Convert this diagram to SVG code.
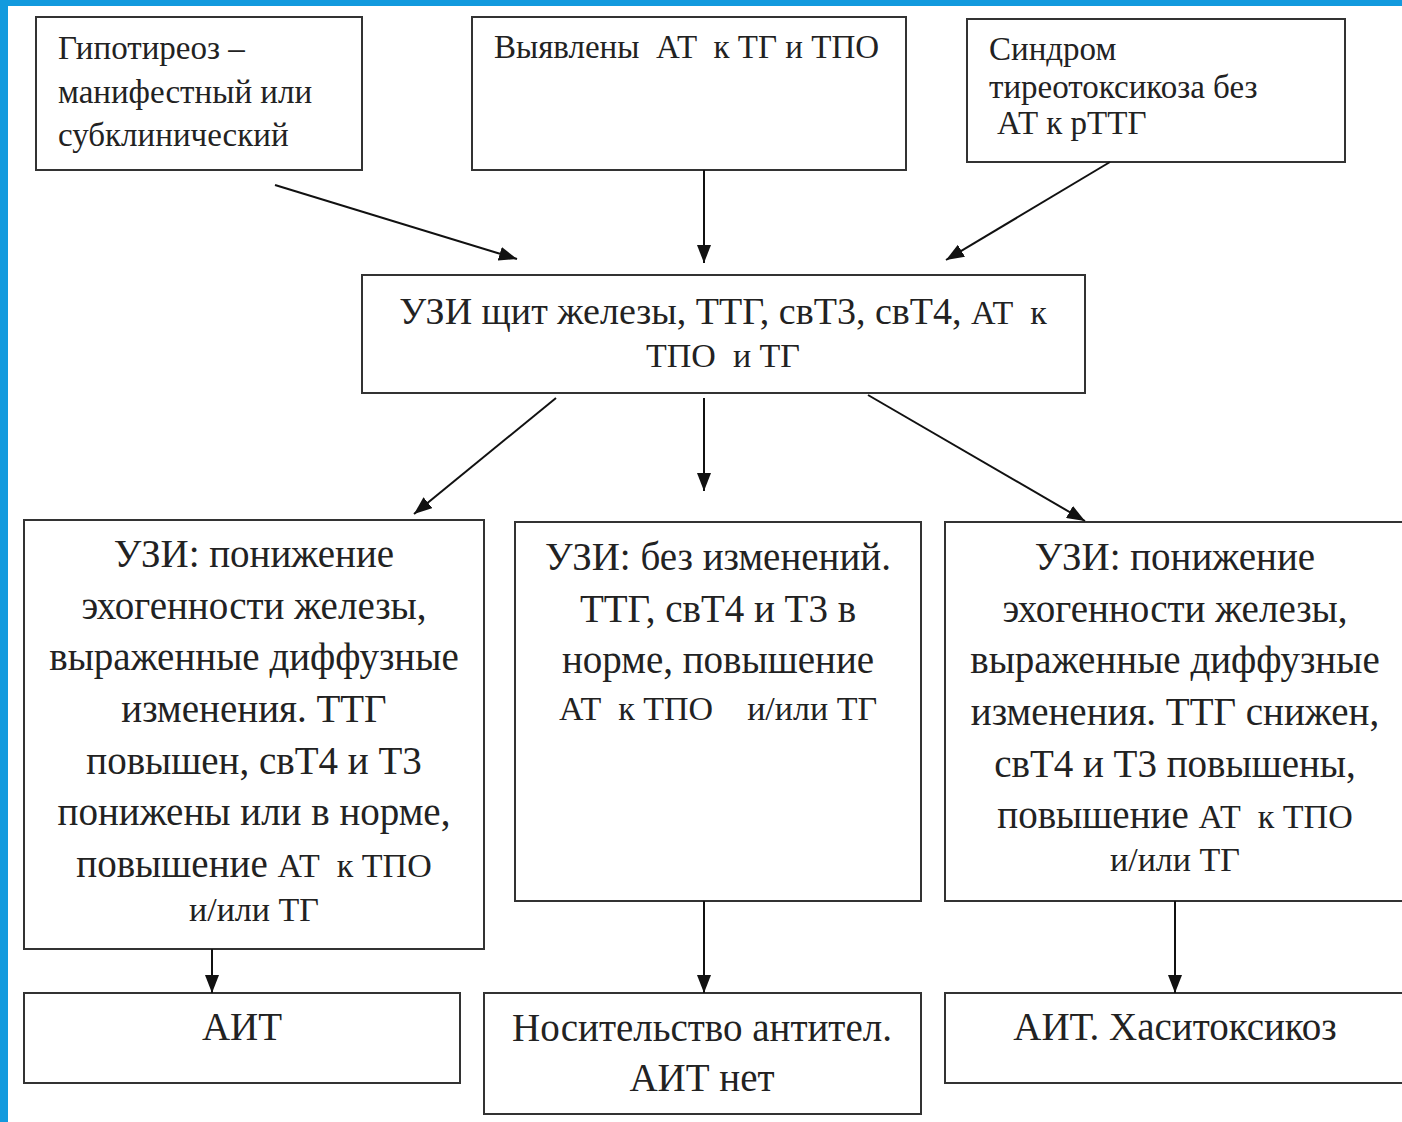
<svg xmlns="http://www.w3.org/2000/svg" width="1402" height="1122" viewBox="0 0 1402 1122">
<defs>
<marker id="ah" viewBox="0 0 18 14" refX="18" refY="7" markerWidth="18" markerHeight="14" markerUnits="userSpaceOnUse" orient="auto">
<path d="M0,0 L18,7 L0,14 z" fill="#111"/>
</marker>
<style>
.box{fill:#fff;stroke:#333;stroke-width:2}
.t{font-family:"Liberation Serif","Times New Roman",serif;fill:#222}
.s{font-size:33px}
.m{font-size:38px}
.msm{font-size:34px}
.l{font-size:39px}
.sm{font-size:34px}
.c{text-anchor:middle}
.con{stroke:#111;stroke-width:2;fill:none;marker-end:url(#ah)}
</style>
</defs>
<rect x="0" y="0" width="1402" height="1122" fill="#fff"/>
<rect x="0" y="0" width="1402" height="6" fill="#129ade"/>
<rect x="0" y="0" width="8" height="1122" fill="#129ade"/>
<g id="n1"><rect class="box" x="36" y="17" width="326" height="153"/>
<text class="t s"><tspan x="58" y="59">Гипотиреоз –</tspan><tspan x="58" y="103">манифестный или</tspan><tspan x="58" y="146">субклинический</tspan></text></g>
<g id="n2"><rect class="box" x="472" y="17" width="434" height="153"/>
<text class="t s" x="494" y="58" xml:space="preserve">Выявлены  АТ  к ТГ и ТПО</text></g>
<g id="n3"><rect class="box" x="967" y="19" width="378" height="143"/>
<text class="t s"><tspan x="989" y="60">Синдром</tspan><tspan x="989" y="98">тиреотоксикоза без</tspan><tspan x="997" y="134">АТ к рТТГ</tspan></text></g>
<g id="n4"><rect class="box" x="362" y="275" width="723" height="118"/>
<text class="t m c" xml:space="preserve"><tspan x="723" y="324">УЗИ щит железы, ТТГ, свТ3, свТ4, <tspan class="msm">АТ  к</tspan></tspan><tspan x="723" y="367" class="msm">ТПО  и ТГ</tspan></text></g>
<g id="n5"><rect class="box" x="24" y="520" width="460" height="429"/>
<text class="t l c" xml:space="preserve"><tspan x="254" y="567">УЗИ: понижение</tspan><tspan x="254" y="619">эхогенности железы,</tspan><tspan x="254" y="670">выраженные диффузные</tspan><tspan x="254" y="722">изменения. ТТГ</tspan><tspan x="254" y="774">повышен, свТ4 и Т3</tspan><tspan x="254" y="825">понижены или в норме,</tspan><tspan x="254" y="877">повышение <tspan class="sm">АТ  к ТПО</tspan></tspan><tspan x="254" y="921" class="sm">и/или ТГ</tspan></text></g>
<g id="n6"><rect class="box" x="515" y="522" width="406" height="379"/>
<text class="t l c" xml:space="preserve"><tspan x="718" y="570">УЗИ: без изменений.</tspan><tspan x="718" y="622">ТТГ, свТ4 и Т3 в</tspan><tspan x="718" y="673">норме, повышение</tspan><tspan x="718" y="720" class="sm">АТ  к ТПО    и/или ТГ</tspan></text></g>
<g id="n7"><rect class="box" x="945" y="522" width="462" height="379"/>
<text class="t l c" xml:space="preserve"><tspan x="1175" y="570">УЗИ: понижение</tspan><tspan x="1175" y="622">эхогенности железы,</tspan><tspan x="1175" y="673">выраженные диффузные</tspan><tspan x="1175" y="725">изменения. ТТГ снижен,</tspan><tspan x="1175" y="777">свТ4 и Т3 повышены,</tspan><tspan x="1175" y="828">повышение <tspan class="sm">АТ  к ТПО</tspan></tspan><tspan x="1175" y="871" class="sm">и/или ТГ</tspan></text></g>
<g id="n8"><rect class="box" x="24" y="993" width="436" height="90"/>
<text class="t l c" x="242" y="1040">АИТ</text></g>
<g id="n9"><rect class="box" x="484" y="993" width="437" height="121"/>
<text class="t l c"><tspan x="702" y="1041">Носительство антител.</tspan><tspan x="702" y="1091">АИТ нет</tspan></text></g>
<g id="n10"><rect class="box" x="945" y="993" width="462" height="90"/>
<text class="t l c" x="1175" y="1040">АИТ. Хаситоксикоз</text></g>
<g id="connectors">
<line class="con" x1="275" y1="185" x2="517" y2="259"/>
<line class="con" x1="704" y1="170" x2="704" y2="263"/>
<line class="con" x1="1110" y1="162" x2="946" y2="260"/>
<line class="con" x1="556" y1="398" x2="414" y2="514"/>
<line class="con" x1="704" y1="398" x2="704" y2="491"/>
<line class="con" x1="868" y1="395" x2="1085" y2="521"/>
<line class="con" x1="212" y1="949" x2="212" y2="993"/>
<line class="con" x1="704" y1="901" x2="704" y2="993"/>
<line class="con" x1="1175" y1="901" x2="1175" y2="993"/>
</g>
</svg>
